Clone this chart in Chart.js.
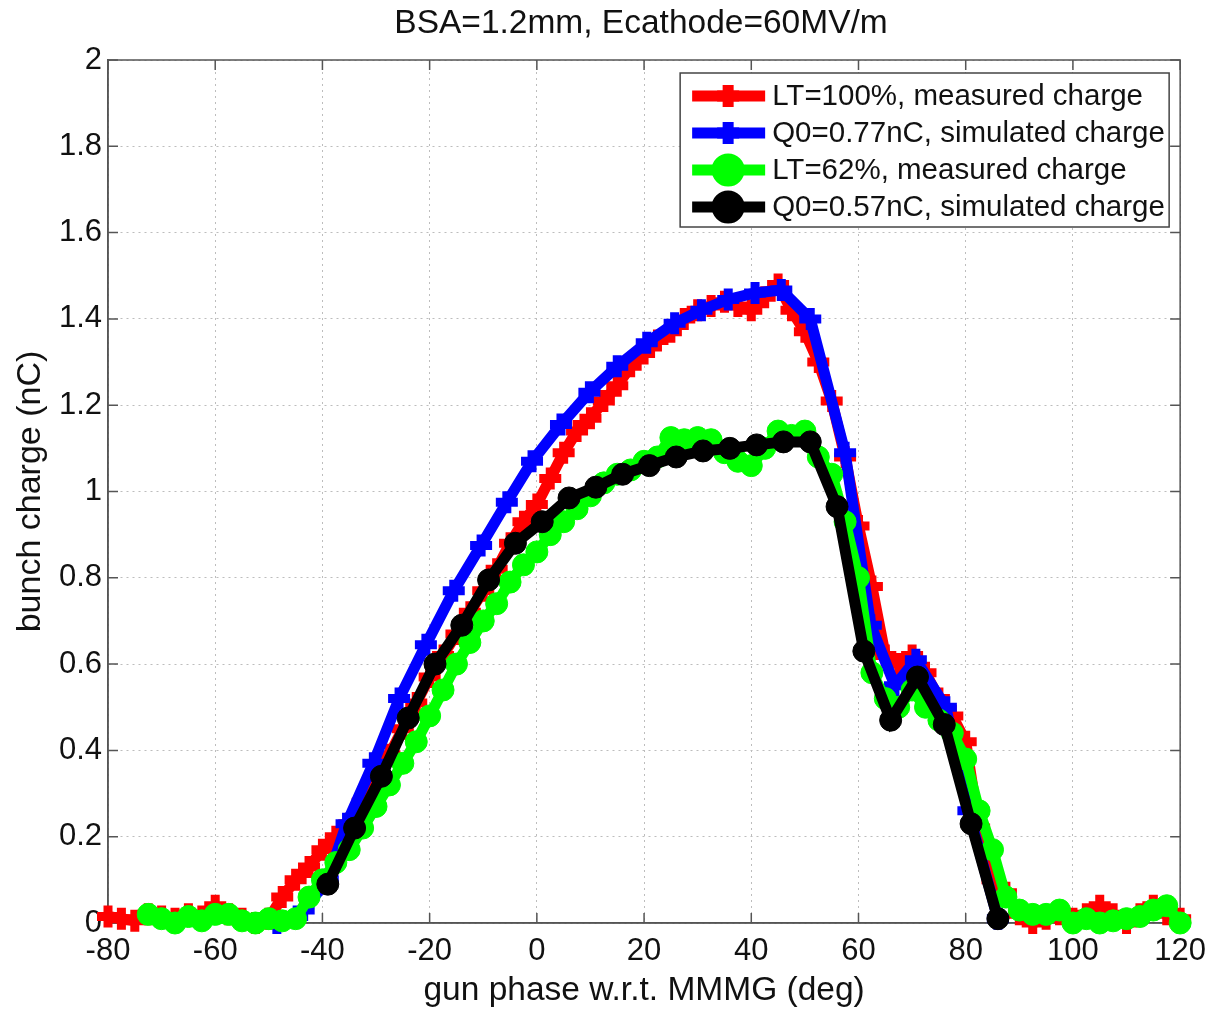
<!DOCTYPE html>
<html>
<head>
<meta charset="utf-8">
<script src="https://cdn.jsdelivr.net/npm/chart.js@4.4.0/dist/chart.umd.min.js"></script>
<style>
  html, body { margin: 0; padding: 0; background: #fff; }
</style>
</head>
<body>
<canvas id="chart" width="1216" height="1011"></canvas>
<script>
'use strict';

// LT=100%, measured charge
let redPhase = [-80, -77.5, -75, -72.5, -70, -67.5, -65, -62.5, -60, -57.5, -55, -52.5, -50, -47.5, -45, -42.5, -40, -37.5, -35, -32.5,
  -30, -27.5, -25, -22.5, -20, -17.5, -15, -12.5, -10, -7.5, -5, -2.5, 0, 2.5, 5, 7.5, 10, 12.5, 15, 17.5,
  20, 22.5, 25, 27.5, 30, 32.5, 35, 37.5, 40, 42.5, 45, 47.5, 50, 52.5, 55, 57.5, 60, 62.5, 65, 67.5,
  70, 72.5, 75, 77.5, 80, 82.5, 85, 87.5, 90, 92.5, 95, 97.5, 100, 102.5, 105, 107.5, 110, 112.5, 115, 117.5, 120];
let redCharge = [0.015, 0.01, 0.005, 0.02, 0.015, 0.01, 0.02, 0.015, 0.04, 0.02, 0.01, 0.0, 0.01, 0.06, 0.10, 0.13, 0.17, 0.20, 0.23, 0.28,
  0.33, 0.39, 0.45, 0.51, 0.57, 0.62, 0.67, 0.72, 0.77, 0.82, 0.88, 0.93, 0.97, 1.03, 1.09, 1.14, 1.17, 1.21, 1.245, 1.29,
  1.32, 1.35, 1.37, 1.40, 1.42, 1.43, 1.44, 1.43, 1.42, 1.45, 1.48, 1.42, 1.37, 1.30, 1.21, 1.08, 0.92, 0.78, 0.62, 0.60,
  0.62, 0.58, 0.52, 0.48, 0.42, 0.22, 0.10, 0.07, 0.02, 0.0, 0.01, 0.02, 0.01, 0.02, 0.04, 0.02, 0.0, 0.02, 0.04, 0.02, 0.01];

// Q0=0.77nC, simulated charge
let bluePhase = [-48.5, -43.5, -39, -35.5, -30.5, -25.7, -20.7, -15.5, -10.4, -5.6, -0.9, 4.5, 9.8, 15, 20.5, 25.7, 30.7, 35.7, 40.7, 45.6,
  51, 57.5, 62.3, 66.8, 70.7, 76.3, 80.5, 86];
let blueCharge = [0.0, 0.03, 0.10, 0.23, 0.37, 0.52, 0.645, 0.77, 0.875, 0.975, 1.07, 1.155, 1.23, 1.29, 1.345, 1.39, 1.42, 1.445, 1.46, 1.467,
  1.40, 1.09, 0.69, 0.55, 0.61, 0.50, 0.26, 0.01];

// LT=62%, measured charge
let greenPhase = [-72.5, -70, -67.5, -65, -62.5, -60, -57.5, -55, -52.5, -50, -47.5, -45, -42.5, -40, -37.5, -35, -32.5, -30, -27.5, -25,
  -22.5, -20, -17.5, -15, -12.5, -10, -7.5, -5, -2.5, 0, 2.5, 5, 7.5, 10, 12.5, 15, 17.5, 20, 22.5, 25,
  27.5, 30, 32.5, 35, 37.5, 40, 42.5, 45, 47.5, 50, 52.5, 55, 57.5, 60, 62.5, 65, 67.5, 70, 72.5, 75,
  77.5, 80, 82.5, 85, 87.5, 90, 92.5, 95, 97.5, 100, 102.5, 105, 107.5, 110, 112.5, 115, 117.5, 120];
let greenCharge = [0.02, 0.01, 0.0, 0.015, 0.005, 0.02, 0.02, 0.005, 0.0, 0.01, 0.005, 0.01, 0.06, 0.10, 0.14, 0.17, 0.22, 0.27, 0.32, 0.37,
  0.42, 0.48, 0.54, 0.60, 0.65, 0.70, 0.74, 0.79, 0.83, 0.86, 0.90, 0.93, 0.96, 0.99, 1.02, 1.04, 1.05, 1.07, 1.08, 1.125,
  1.12, 1.125, 1.12, 1.09, 1.07, 1.06, 1.10, 1.14, 1.13, 1.14, 1.08, 1.04, 0.93, 0.80, 0.58, 0.52, 0.50, 0.54, 0.50, 0.47,
  0.44, 0.38, 0.26, 0.17, 0.06, 0.03, 0.02, 0.02, 0.03, 0.0, 0.01, 0.0, 0.005, 0.01, 0.015, 0.03, 0.04, 0.0];

// Q0=0.57nC, simulated charge
let blackPhase = [-39, -34, -29, -24, -19, -14, -9, -4, 1, 6, 11, 16, 21, 26, 31, 36, 41, 46, 51, 56,
  61, 66, 71, 76, 81, 86];
let blackCharge = [0.09, 0.22, 0.34, 0.475, 0.60, 0.69, 0.795, 0.88, 0.93, 0.985, 1.01, 1.04, 1.06, 1.08, 1.094, 1.10, 1.108, 1.115, 1.115, 0.965,
  0.63, 0.47, 0.57, 0.46, 0.23, 0.01];

let xTickLabels = ['-80', '-60', '-40', '-20', '0', '20', '40', '60', '80', '100', '120'];
let yTickLabels = ['0', '0.2', '0.4', '0.6', '0.8', '1', '1.2', '1.4', '1.6', '1.8', '2'];

let fontFamily = '"Liberation Sans", Arial, Helvetica, sans-serif';
let textColor = '#111';

function toPoints(xs, ys) {
  let pts = [];
  for (let i = 0; i < xs.length; i++) {
    pts.push({ x: xs[i], y: ys[i] });
  }
  return pts;
}

function makeSeries(label, xs, ys, color, style, order) {
  let isCross = style === 'cross';
  return {
    label: label,
    data: toPoints(xs, ys),
    borderColor: color,
    backgroundColor: color,
    borderWidth: 11,
    tension: 0,
    pointStyle: style,
    pointRadius: 11,
    pointBorderWidth: isCross ? 9 : 1,
    pointBackgroundColor: color,
    pointBorderColor: color,
    clip: false,
    order: order
  };
}

// frame: top/right box lines and inward ticks like matlab axes
let matlabFrame = {
  id: 'matlabFrame',
  beforeDatasetsDraw(chart) {
    let ctx = chart.ctx;
    let a = chart.chartArea;
    let xs = chart.scales.x;
    let ys = chart.scales.y;
    ctx.save();
    ctx.strokeStyle = '#555';
    ctx.lineWidth = 1.5;
    ctx.strokeRect(a.left, a.top, a.right - a.left, a.bottom - a.top);
    ctx.beginPath();
    xs.ticks.forEach(t => {
      let px = xs.getPixelForValue(t.value);
      ctx.moveTo(px, a.bottom);
      ctx.lineTo(px, a.bottom - 10);
      ctx.moveTo(px, a.top);
      ctx.lineTo(px, a.top + 10);
    });
    ys.ticks.forEach(t => {
      let py = ys.getPixelForValue(t.value);
      ctx.moveTo(a.left, py);
      ctx.lineTo(a.left + 10, py);
      ctx.moveTo(a.right, py);
      ctx.lineTo(a.right - 10, py);
    });
    ctx.stroke();
    ctx.restore();
  },
  afterDraw(chart) {
    let ctx = chart.ctx;
    let a = chart.chartArea;
    ctx.save();
    // title
    ctx.fillStyle = textColor;
    ctx.font = '33.5px ' + fontFamily;
    ctx.textAlign = 'center';
    ctx.textBaseline = 'middle';
    ctx.fillText('BSA=1.2mm, Ecathode=60MV/m', 641, 24);

    // legend box inside the axes
    let boxW = 489;
    let boxH = 154;
    let bx = a.right - 11 - boxW;
    let by = a.top + 13;
    ctx.fillStyle = '#fff';
    ctx.fillRect(bx, by, boxW, boxH);
    ctx.strokeStyle = '#444';
    ctx.lineWidth = 1.5;
    ctx.strokeRect(bx, by, boxW, boxH);
    chart.data.datasets.forEach((ds, i) => {
      let y = by + 23 + i * 37;
      ctx.strokeStyle = ds.borderColor;
      ctx.fillStyle = ds.borderColor;
      ctx.lineWidth = 11;
      ctx.beginPath();
      ctx.moveTo(bx + 12, y);
      ctx.lineTo(bx + 85, y);
      ctx.stroke();
      Chart.helpers.drawPoint(ctx, {
        pointStyle: ds.pointStyle,
        radius: ds.pointRadius,
        borderWidth: ds.pointBorderWidth,
        rotation: 0
      }, bx + 48, y);
      ctx.fillStyle = textColor;
      ctx.font = '29.5px ' + fontFamily;
      ctx.textAlign = 'left';
      ctx.textBaseline = 'middle';
      ctx.fillText(ds.label, bx + 92, y + 1);
    });
    ctx.restore();
  }
};

let canvasElem = document.getElementById('chart');

new Chart(canvasElem, {
  type: 'line',
  data: {
    datasets: [
      makeSeries('LT=100%, measured charge', redPhase, redCharge, '#ff0000', 'cross', 4),
      makeSeries('Q0=0.77nC, simulated charge', bluePhase, blueCharge, '#0000ff', 'cross', 3),
      makeSeries('LT=62%, measured charge', greenPhase, greenCharge, '#00ff00', 'circle', 2),
      makeSeries('Q0=0.57nC, simulated charge', blackPhase, blackCharge, '#000000', 'circle', 1)
    ]
  },
  options: {
    responsive: false,
    animation: false,
    layout: { padding: { top: 60, right: 30, left: 0, bottom: 0 } },
    plugins: {
      legend: { display: false },
      title: { display: false },
      tooltip: { enabled: false }
    },
    scales: {
      x: {
        type: 'linear',
        min: -80,
        max: 120,
        afterFit(scale) { scale.height = 88; },
        ticks: {
          stepSize: 20,
          color: textColor,
          padding: 10,
          font: { size: 31, family: fontFamily },
          maxRotation: 0,
          callback: (v, i) => xTickLabels[i]
        },
        grid: { color: '#bdbdbd', lineWidth: 1, drawTicks: false },
        border: { color: '#555', width: 1.5, dash: [2, 4] },
        title: {
          display: true,
          text: 'gun phase w.r.t. MMMG (deg)',
          color: textColor,
          font: { size: 33.5, family: fontFamily },
          padding: { top: 0, bottom: 0 }
        }
      },
      y: {
        min: 0,
        max: 2,
        afterFit(scale) { scale.width = 108; },
        ticks: {
          stepSize: 0.2,
          color: textColor,
          padding: 6,
          font: { size: 31, family: fontFamily },
          callback: (v, i) => yTickLabels[i]
        },
        grid: { color: '#bdbdbd', lineWidth: 1, drawTicks: false },
        border: { color: '#555', width: 1.5, dash: [2, 4] },
        title: {
          display: true,
          text: 'bunch charge (nC)',
          color: textColor,
          font: { size: 34, family: fontFamily },
          padding: { top: 10, bottom: 0 }
        }
      }
    }
  },
  plugins: [matlabFrame]
});
</script>
</body>
</html>
